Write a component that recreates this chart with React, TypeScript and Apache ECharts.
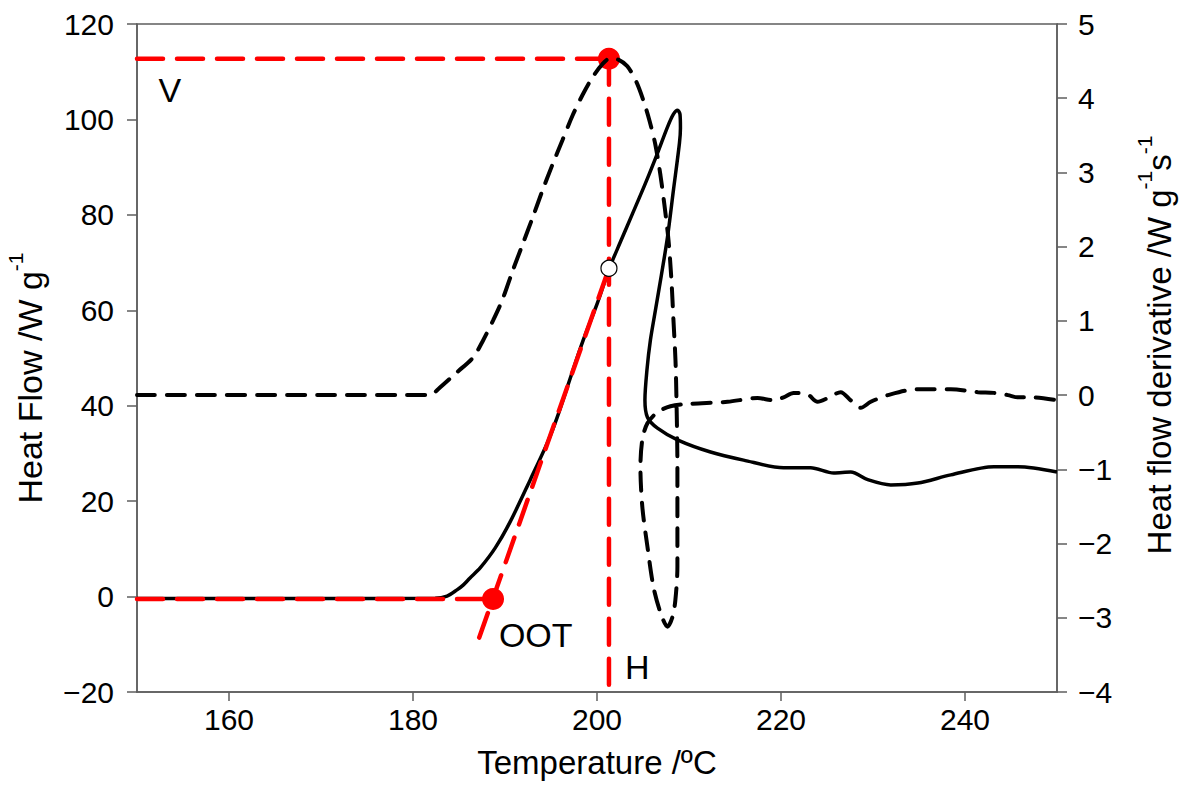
import React, { useEffect, useRef } from "react";
import * as echarts from "echarts";

const FONT = "'Liberation Sans', Arial, Helvetica, sans-serif";

// x-axis tick values (°C)
const xTicks = [160, 180, 200, 220, 240];

// Heat flow (W/g), left axis — [temperature, value]
const heatFlow: [number, number][] = [
  [150, -0.4], [170, -0.4], [182.4, -0.35], [183.7, 0.1], [184.78, 1.4], [185.45, 2.4],
  [186.2, 3.9], [187.3, 6.0], [188.94, 10.2], [190.57, 15.7], [192.75, 24.5],
  [194.6, 32.2], [195.68, 37.6], [197.1, 45.8], [198.51, 53.8], [200.04, 61.5],
  [201.34, 68.8], [202.54, 74.3], [203.85, 80.2], [205.26, 86.6], [206.57, 92.9],
  [207.66, 98.4], [208.31, 101.1], [208.75, 101.9], [209.02, 101.1], [209.07, 98.2],
  [208.96, 95.0], [208.31, 85.2], [207.66, 75.3], [207.0, 67.4], [206.35, 60.0],
  [205.81, 53.8], [205.43, 47.5], [205.21, 41.2], [205.48, 37.6], [206.57, 35.3],
  [208.8, 32.8], [212.34, 30.3], [215.93, 28.6], [220.28, 27.0], [223.22, 27.0],
  [225.73, 25.9], [227.58, 26.1], [229.43, 24.5], [231.93, 23.4], [234.87, 23.8],
  [238.46, 25.5], [243.14, 27.2], [245.76, 27.2], [250, 26.1],
];

// Heat flow derivative (W/g/s), right axis — [temperature, value]
const derivative: [number, number][] = [
  [150, 0], [170, 0], [181.86, 0], [182.73, 0.08], [184.8, 0.31], [186.55, 0.51],
  [187.63, 0.74], [188.72, 1.01], [189.7, 1.28], [190.79, 1.66], [191.88, 2.02],
  [192.97, 2.38], [194.05, 2.75], [195.14, 3.1], [196.23, 3.43], [197.32, 3.76],
  [198.41, 4.04], [199.5, 4.28], [200.59, 4.46], [201.46, 4.54], [202.32, 4.52],
  [203.3, 4.43], [204.28, 4.22], [205.04, 3.97], [205.7, 3.7], [206.35, 3.37],
  [206.9, 2.96], [207.33, 2.56], [207.77, 2.09], [208.09, 1.55], [208.31, 1.01],
  [208.53, 0.47], [208.64, -0.07], [208.74, -0.97], [208.74, -1.86], [208.74, -2.31],
  [208.52, -2.76], [208.2, -2.99], [207.66, -3.12], [206.9, -2.93], [206.13, -2.58],
  [205.48, -2.04], [204.93, -1.51], [204.72, -0.97], [204.93, -0.6], [205.48, -0.38],
  [206.57, -0.23], [207.99, -0.15], [209.83, -0.12], [214.19, -0.09], [217.45, -0.04],
  [219.19, -0.07], [220.28, -0.03], [221.37, 0.03], [222.89, 0.01], [223.98, -0.09],
  [225.07, -0.04], [226.49, 0.04], [227.58, -0.07], [228.67, -0.17], [229.76, -0.09],
  [231.61, 0.0], [234.87, 0.08], [238.46, 0.08], [241.4, 0.04], [243.14, 0.03],
  [244.66, 0.0], [245.76, -0.03], [247.5, -0.03], [250, -0.07],
];

// Construction lines (left axis)
const vLevel: [number, number][] = [[150, 112.7], [201.3, 112.7]];
const hLine: [number, number][] = [[201.3, 112.7], [201.3, -20]];
const baseLine: [number, number][] = [[150, -0.5], [188.7, -0.5]];
const tangent: [number, number][] = [[187.2, -8.6], [201.3, 68.8]];

// Marked points
const redPoints: [number, number][] = [[201.3, 112.7], [188.7, -0.5]];
const inflection: [number, number][] = [[201.3, 68.8]];

// Annotation labels
const annotations = [
  { name: "V", value: [153.56, 106.1] },
  { name: "OOT", value: [193.34, -8.1] },
  { name: "H", value: [204.39, -14.7] },
];

const minus = (v: number) => String(v).replace("-", "\u2212");

const AXIS_COLOR = "#5e5e5e";

export default function App() {
  const ref = useRef<HTMLDivElement>(null);
  useEffect(() => {
    if (!ref.current) return;
    const chart = echarts.init(ref.current, undefined, { renderer: "svg" });
    const redDash = {
      color: "#ff0000",
      width: 4.5,
      type: [26, 14] as number[],
      cap: "round" as const,
    };
    const redLine = (name: string, data: [number, number][]) => ({
      name,
      type: "line" as const,
      data,
      yAxisIndex: 0,
      symbol: "none",
      lineStyle: redDash,
      z: 3,
      silent: true,
    });
    const supRich = (size: number) => ({
      m: { fontSize: size, fontFamily: FONT, color: "#000", lineHeight: 42, verticalAlign: "bottom" },
      s: { fontSize: 21, fontFamily: FONT, color: "#000", lineHeight: 20, verticalAlign: "top" },
    });
    chart.setOption({
      animation: false,
      backgroundColor: "#fff",
      grid: {
        left: 137,
        top: 24,
        width: 920,
        height: 668,
        containLabel: false,
        outerBoundsMode: "none",
        show: true,
        borderColor: AXIS_COLOR,
        borderWidth: 1.5,
        backgroundColor: "transparent",
      },
      xAxis: {
        type: "value",
        min: 150,
        max: 250,
        axisLine: { show: true, onZero: false, lineStyle: { color: AXIS_COLOR, width: 1.5 } },
        axisTick: { show: true, length: 9, customValues: xTicks, lineStyle: { color: AXIS_COLOR, width: 1.5 } },
        axisLabel: { customValues: xTicks, fontSize: 30, fontFamily: FONT, color: "#000", margin: 12 },
        splitLine: { show: false },
        name: "Temperature /ºC",
        nameLocation: "middle",
        nameGap: 54,
        nameTextStyle: { fontSize: 33, fontFamily: FONT, color: "#000" },
      },
      yAxis: [
        {
          type: "value",
          position: "left",
          min: -20,
          max: 120,
          interval: 20,
          axisLine: { show: true, onZero: false, lineStyle: { color: AXIS_COLOR, width: 1.5 } },
          axisTick: { show: true, length: 10, lineStyle: { color: AXIS_COLOR, width: 1.5 } },
          axisLabel: { fontSize: 30, fontFamily: FONT, color: "#000", margin: 23, formatter: minus },
          splitLine: { show: false },
          name: "{m|Heat Flow /W g}{s|-1}",
          nameLocation: "middle",
          nameGap: 90,
          nameTextStyle: { rich: supRich(34), padding: [0, 40, 0, 0] },
        },
        {
          type: "value",
          position: "right",
          min: -4,
          max: 5,
          interval: 1,
          axisLine: { show: true, onZero: false, lineStyle: { color: AXIS_COLOR, width: 1.5 } },
          axisTick: { show: true, length: 10, lineStyle: { color: AXIS_COLOR, width: 1.5 } },
          axisLabel: { fontSize: 30, fontFamily: FONT, color: "#000", margin: 21, formatter: minus },
          splitLine: { show: false },
          name: "{m|Heat flow derivative /W g}{s|-1}{m|s}{s|-1}",
          nameLocation: "middle",
          nameGap: 77,
          nameTextStyle: { rich: supRich(33), padding: [0, 0, 0, 26] },
        },
      ],
      series: [
        {
          name: "Heat flow",
          type: "line",
          data: heatFlow,
          yAxisIndex: 0,
          symbol: "none",
          smooth: 0.3,
          lineStyle: { color: "#000", width: 3.5 },
          z: 2,
          silent: true,
        },
        redLine("V level", vLevel),
        redLine("H line", hLine),
        redLine("Baseline", baseLine),
        redLine("Tangent", tangent),
        {
          name: "Red points",
          type: "scatter",
          data: redPoints,
          yAxisIndex: 0,
          symbol: "circle",
          symbolSize: 22,
          itemStyle: { color: "#ff0000", opacity: 1 },
          z: 4,
          silent: true,
        },
        {
          name: "Heat flow derivative",
          type: "line",
          data: derivative,
          yAxisIndex: 1,
          symbol: "none",
          smooth: 0.3,
          lineStyle: { color: "#000", width: 4, type: [18, 12], cap: "round" },
          z: 5,
          silent: true,
        },
        {
          name: "Inflection",
          type: "scatter",
          data: inflection,
          yAxisIndex: 0,
          symbol: "circle",
          symbolSize: 16,
          itemStyle: { color: "#fff", borderColor: "#000", borderWidth: 1.2, opacity: 1 },
          z: 6,
          silent: true,
        },
        {
          name: "Annotations",
          type: "scatter",
          data: annotations,
          yAxisIndex: 0,
          symbolSize: 1,
          itemStyle: { color: "rgba(255,255,255,0)", opacity: 1 },
          label: {
            show: true,
            position: "inside",
            formatter: "{b}",
            fontSize: 34,
            fontFamily: FONT,
            color: "#000",
            opacity: 1,
          },
          z: 7,
          silent: true,
        },
      ],
    });
    return () => chart.dispose();
  }, []);
  return (
    <div
      ref={ref}
      style={{ position: "absolute", left: 0, top: 0, width: 1180, height: 788, background: "#fff" }}
    />
  );
}
